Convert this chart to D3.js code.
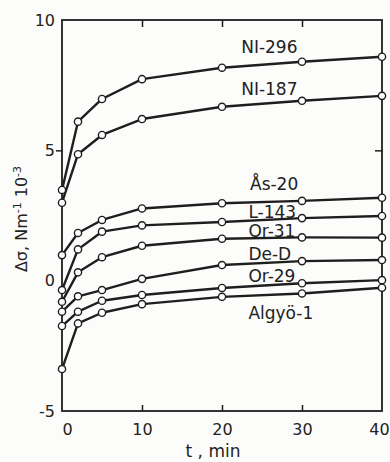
<!DOCTYPE html>
<html>
<head>
<meta charset="utf-8">
<script src="https://cdn.jsdelivr.net/npm/d3@7"></script>
<style>
  html, body { margin: 0; padding: 0; background: #fcfcfb; }
  svg { display: block; }
  text { font-family: "DejaVu Sans", sans-serif; fill: #222; }
</style>
</head>
<body>
<svg id="chart" width="390" height="462"></svg>
<script>
// Time after contact, minutes
const times = [0, 2, 5, 10, 20, 30, 40];

// Change of interfacial tension, N m^-1 x 10^-3, one array per sample
const ni296  = [3.48, 6.10, 6.97, 7.73, 8.17, 8.40, 8.59];
const ni187  = [2.99, 4.85, 5.59, 6.20, 6.67, 6.90, 7.09];
const as20   = [0.98, 1.83, 2.33, 2.77, 2.97, 3.06, 3.18];
const l143   = [-0.36, 1.20, 1.88, 2.12, 2.25, 2.40, 2.48];
const or31   = [-0.81, 0.32, 0.90, 1.34, 1.61, 1.66, 1.65];
const deD    = [-1.19, -0.60, -0.36, 0.07, 0.60, 0.75, 0.79];
const or29   = [-1.74, -1.19, -0.77, -0.55, -0.28, -0.10, 0.02];
const algyo1 = [-3.39, -1.64, -1.23, -0.90, -0.62, -0.49, -0.27];

const seriesNames = ["NI-296", "NI-187", "Ås-20", "L-143", "Or-31", "De-D", "Or-29", "Algyö-1"];
const seriesValues = [ni296, ni187, as20, l143, or31, deD, or29, algyo1];

const xTicks = [0, 10, 20, 30, 40];
const yTicks = [-5, 0, 5, 10];

// Frame geometry
const frameL = 62, frameR = 382, frameT = 20, frameB = 411;

const svg = d3.select("#chart");
const x = d3.scaleLinear().domain([0, 40]).range([frameL, frameR]);
const y = d3.scaleLinear().domain([-5, 10]).range([frameB, frameT]);

const ink = "#1e1e1e";

// Frame
svg.append("rect")
  .attr("x", frameL).attr("y", frameT)
  .attr("width", frameR - frameL).attr("height", frameB - frameT)
  .attr("fill", "none").attr("stroke", ink).attr("stroke-width", 1.8);

// Bottom axis: labels everywhere, inward ticks only at interior values
const gx = svg.append("g").attr("transform", `translate(0,${frameB})`)
  .call(d3.axisBottom(x).tickValues(xTicks).tickSize(-6).tickPadding(13).tickFormat(d3.format("d")));
gx.select(".domain").remove();
gx.selectAll(".tick line").attr("stroke", ink).attr("stroke-width", 1.5)
  .attr("display", d => (d === 0 || d === 40) ? "none" : null);
gx.selectAll(".tick text").attr("font-size", 16).attr("fill", "#222")
  .attr("font-family", "DejaVu Sans, sans-serif")
  .attr("dx", d => d === 0 ? 5 : (d === 40 ? -3 : 0));

// Top axis: inward ticks
const gt = svg.append("g").attr("transform", `translate(0,${frameT})`)
  .call(d3.axisTop(x).tickValues([10, 20, 30]).tickSize(-7).tickFormat(""));
gt.select(".domain").remove();
gt.selectAll(".tick line").attr("stroke", ink).attr("stroke-width", 1.5);

// Left axis: labels, one outward tick at 5
const gy = svg.append("g").attr("transform", `translate(${frameL},0)`)
  .call(d3.axisLeft(y).tickValues(yTicks).tickSize(0).tickPadding(7).tickFormat(d => d < 0 ? "-" + Math.abs(d) : d));
gy.select(".domain").remove();
gy.selectAll(".tick text").attr("font-size", 16).attr("fill", "#222")
  .attr("font-family", "DejaVu Sans, sans-serif");
const gyt = svg.append("g").attr("transform", `translate(${frameL},0)`)
  .call(d3.axisLeft(y).tickValues([5]).tickSize(6).tickFormat(""));
gyt.select(".domain").remove();
gyt.selectAll(".tick line").attr("stroke", ink).attr("stroke-width", 1.5);

// Right axis: one inward tick at 5
const gr = svg.append("g").attr("transform", `translate(${frameR},0)`)
  .call(d3.axisRight(y).tickValues([5]).tickSize(-7).tickFormat(""));
gr.select(".domain").remove();
gr.selectAll(".tick line").attr("stroke", ink).attr("stroke-width", 1.5);

// Series lines and open markers
const line = d3.line().x((d, i) => x(times[i])).y(d => y(d));
const gs = svg.append("g");
seriesValues.forEach(vals => {
  gs.append("path").datum(vals)
    .attr("d", line).attr("fill", "none")
    .attr("stroke", ink).attr("stroke-width", 2.4).attr("stroke-linejoin", "round");
});
seriesValues.forEach(vals => {
  gs.selectAll(null).data(vals).enter().append("circle")
    .attr("cx", (d, i) => x(times[i])).attr("cy", d => y(d))
    .attr("r", 3.6).attr("fill", "#fff")
    .attr("stroke", ink).attr("stroke-width", 1.4);
});

// Series labels, set beside each curve near t = 30
const labelStart = [22.4, 22.4, 23.5, 23.3, 23.3, 23.3, 23.3, 23.3];
const labelShift = [-9, -6, -11, 0, 0, -1, -1, 26];
seriesNames.forEach((name, k) => {
  svg.append("text")
    .attr("x", x(labelStart[k]))
    .attr("y", y(seriesValues[k][5]) + labelShift[k])
    .attr("font-size", 17)
    .text(name);
});

// Axis titles
svg.append("text")
  .attr("x", 213).attr("y", 457)
  .attr("text-anchor", "middle").attr("font-size", 17)
  .text("t , min");

const yt = svg.append("text")
  .attr("transform", "translate(27,219) rotate(-90)")
  .attr("text-anchor", "middle").attr("font-size", 16);
yt.append("tspan").text("Δσ, Nm");
yt.append("tspan").attr("dy", -6).attr("font-size", 11).text("-1");
yt.append("tspan").attr("dy", 6).text(" 10");
yt.append("tspan").attr("dy", -6).attr("font-size", 11).text("-3");
</script>
</body>
</html>
